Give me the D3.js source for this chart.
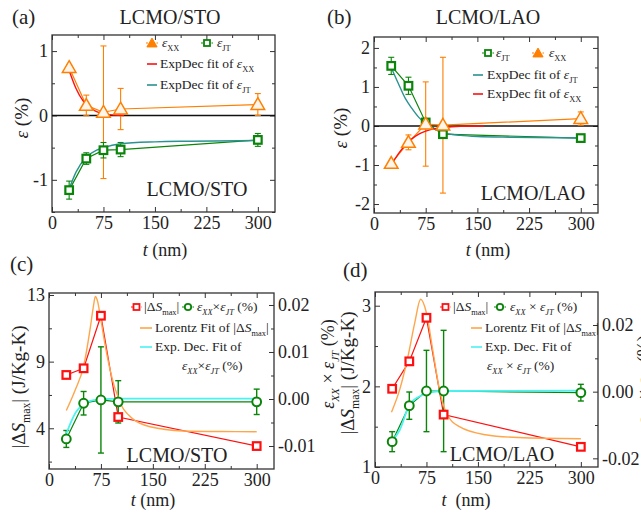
<!DOCTYPE html>
<html>
<head>
<meta charset="utf-8">
<script src="https://cdn.jsdelivr.net/npm/d3@7"></script>
<style>
body { margin: 0; background: #fff; }
</style>
</head>
<body>
<svg id="chart" width="641" height="514"></svg>
<script>
// film thickness t (nm)
var thickness = [25, 50, 75, 100, 300];

// (a) LCMO/STO strain
var stoXX = [0.745, 0.156, 0.05, 0.10, 0.17];
var stoXXErr = [0.04, 0.16, 1.03, 0.32, 0.17];
var stoJT = [-1.16, -0.67, -0.54, -0.53, -0.38];
var stoJTErr = [0.14, 0.09, 0.12, 0.11, 0.10];
var stoXXFit = [[25, 0.70], [35, 0.42], [45, 0.23], [55, 0.12], [65, 0.06], [75, 0.025], [90, 0.007], [105, 0]];
var stoJTFit = [[25, -1.14], [35, -0.88], [50, -0.65], [65, -0.54], [75, -0.50], [100, -0.44], [150, -0.41], [200, -0.40], [300, -0.39]];

// (b) LCMO/LAO strain
var laoJT = [1.54, 1.03, 0.09, -0.21, -0.31];
var laoJTErr = [0.22, 0.22, 0.06, 0.06, 0.05];
var laoXX = [-0.96, -0.42, 0.05, 0.02, 0.19];
var laoXXErr = [0.05, 0.19, 1.08, 1.74, 0.17];
var laoJTFit = [[25, 1.5], [35, 1.1], [45, 0.72], [55, 0.45], [65, 0.22], [75, 0.06], [90, -0.1], [100, -0.17], [125, -0.24], [150, -0.27], [200, -0.29], [300, -0.31]];
var laoXXFit = [[25, -1.0], [35, -0.72], [45, -0.5], [55, -0.33], [65, -0.21], [75, -0.13], [90, -0.06], [100, -0.04], [125, -0.01], [160, 0]];

// (c) LCMO/STO entropy change and strain product
var stoDS = [7.6, 8.05, 11.6, 4.76, 2.8];
var stoProd = [-0.0085, -0.0009, -0.0002, -0.0006, -0.0006];
var stoProdErr = [0.0018, 0.0025, 0.0113, 0.0045, 0.0027];
var stoDSFit = [[25, 5.2], [38, 6.6], [50, 8.2], [60, 10.9], [64, 12.2], [67, 12.9], [70, 12.6], [74, 11.6], [80, 9.9], [88, 8.0], [94, 6.9], [100, 6.1], [105, 5.5], [115, 4.9], [122, 4.6], [146, 4.1], [194, 3.82], [250, 3.78], [300, 3.77]];
var stoProdFit = [[25, -0.0074], [32, -0.0048], [38, -0.003], [45, -0.0017], [50, -0.001], [60, -0.0004], [75, -0.0001], [100, 0.0001], [300, 0.0001]];

// (d) LCMO/LAO entropy change and strain product
var laoDS = [1.97, 2.31, 2.85, 1.65, 1.25];
var laoProd = [-0.015, -0.0042, 0.0002, 0.0002, -0.0003];
var laoProdErr = [0.003, 0.0041, 0.0122, 0.0182, 0.0025];
var laoDSFit = [[24, 1.68], [36, 1.96], [48, 2.37], [58, 2.79], [66.5, 3.08], [75, 2.91], [84, 2.46], [94, 1.96], [104, 1.67], [123, 1.50], [161, 1.40], [209, 1.365], [300, 1.35]];
var laoProdFit = [[24, -0.015], [36, -0.0115], [50, -0.004], [64, -0.0015], [79, -0.0003], [98, 0.0002], [300, 0.0003]];

// ticks
var xTicks = [0, 75, 150, 225, 300];
var xMinor = [37.5, 112.5, 187.5, 262.5];
var aTicks = [-1, 0, 1];
var aMinor = [-1.5, -0.5, 0.5];
var bTicks = [-2, -1, 0, 1, 2];
var bMinor = [-1.5, -0.5, 0.5, 1.5];
var cLeftTicks = [4, 8.5, 13];
var cLeftMinor = [1.75, 6.25, 10.75];
var cRightTicks = [-0.01, 0, 0.01, 0.02];
var cRightMinor = [-0.005, 0.005, 0.015];
var dLeftTicks = [1, 2, 3];
var dLeftMinor = [1.5, 2.5];
var dRightTicks = [-0.02, 0, 0.02];
var dRightMinor = [-0.01, 0.01];

var orange = "#ff7f00", green = "#0a850a", red = "#ff1010",
    teal = "#2b9292", cyan = "#4af2f2", lorentz = "#ffa54a";
var serif = "Liberation Serif, DejaVu Serif, Times New Roman, serif";

var svg = d3.select("#chart").attr("font-family", serif);

function fmt(spec) {
    var f = d3.format(spec);
    return function(d) { return f(d).replace("\u2212", "-"); };
}

// text made of parts: [string, kind], kind "" | "i" | "sub" | "isub"
function rich(g, x, y, parts, size, anchor, rotate) {
    var t = g.append("text").attr("x", x).attr("y", y)
        .attr("font-family", serif).attr("fill", "#222")
        .attr("font-size", size).attr("text-anchor", anchor || "start");
    if (rotate) t.attr("transform", "rotate(-90," + x + "," + y + ")");
    var shifted = 0;
    parts.forEach(function(p) {
        var kind = p[1] || "";
        var sub = kind.indexOf("sub") >= 0;
        var target = sub ? size * 0.28 : 0;
        t.append("tspan").text(p[0])
            .attr("font-size", sub ? size * 0.62 : size)
            .attr("font-style", kind.indexOf("i") === 0 ? "italic" : null)
            .attr("dy", target - shifted);
        shifted = target;
    });
    return t;
}

function styleAxis(sel) {
    sel.attr("font-family", serif);
    sel.select(".domain").remove();
    sel.selectAll(".tick line").attr("stroke", "#333").attr("stroke-width", 1);
    sel.selectAll(".tick text").attr("font-size", 18).attr("fill", "#222")
        .attr("font-family", serif);
}

function axis(g, maker, scale, tx, ty, values, size, format) {
    g.append("g").attr("transform", "translate(" + tx + "," + ty + ")")
        .call(maker(scale).tickValues(values).tickSize(size).tickPadding(4)
            .tickFormat(format || ""))
        .call(styleAxis);
}

function panel(box, yDomain, yTicks, yMinor, yFormat, rightAxis) {
    var g = svg.append("g");
    var x = d3.scaleLinear().domain([0, 325]).range([box.l, box.r]);
    var y = d3.scaleLinear().domain(yDomain).range([box.b, box.t]);
    axis(g, d3.axisBottom, x, 0, box.b, xTicks, -5, fmt("d"));
    axis(g, d3.axisBottom, x, 0, box.b, xMinor, -3);
    axis(g, d3.axisTop, x, 0, box.t, xTicks, -5);
    axis(g, d3.axisTop, x, 0, box.t, xMinor, -3);
    axis(g, d3.axisLeft, y, box.l, 0, yTicks, -5, yFormat);
    axis(g, d3.axisLeft, y, box.l, 0, yMinor, -3);
    var y2 = null;
    if (rightAxis) {
        y2 = d3.scaleLinear().domain(rightAxis.domain).range([box.b, box.t]);
        axis(g, d3.axisRight, y2, box.r, 0, rightAxis.ticks, -5, fmt(".2f"));
        axis(g, d3.axisRight, y2, box.r, 0, rightAxis.minor, -3);
    } else {
        axis(g, d3.axisRight, y, box.r, 0, yTicks, -5);
        axis(g, d3.axisRight, y, box.r, 0, yMinor, -3);
    }
    g.append("rect").attr("x", box.l).attr("y", box.t)
        .attr("width", box.r - box.l).attr("height", box.b - box.t)
        .attr("fill", "none").attr("stroke", "#333").attr("stroke-width", 1.3);
    return {g: g, x: x, y: y, y2: y2};
}

function fitLine(p, ys, pts, color, width) {
    p.g.append("path").datum(pts)
        .attr("d", d3.line().x(function(d) { return p.x(d[0]); })
            .y(function(d) { return ys(d[1]); }).curve(d3.curveMonotoneX))
        .attr("fill", "none").attr("stroke", color).attr("stroke-width", width || 1.4);
}

function series(p, ys, vals, errs, color, errColor, errWidth) {
    var pts = thickness.map(function(t, i) { return [t, vals[i], errs ? errs[i] : 0]; });
    p.g.append("path").datum(pts)
        .attr("d", d3.line().x(function(d) { return p.x(d[0]); }).y(function(d) { return ys(d[1]); }))
        .attr("fill", "none").attr("stroke", color).attr("stroke-width", 1.2);
    if (errs) {
        var eb = p.g.append("g").attr("stroke", errColor).attr("stroke-width", errWidth || 1.1);
        pts.forEach(function(d) {
            var cx = p.x(d[0]), y0 = ys(d[1] - d[2]), y1 = ys(d[1] + d[2]);
            eb.append("line").attr("x1", cx).attr("x2", cx).attr("y1", y0).attr("y2", y1);
            eb.append("line").attr("x1", cx - 3).attr("x2", cx + 3).attr("y1", y0).attr("y2", y0);
            eb.append("line").attr("x1", cx - 3).attr("x2", cx + 3).attr("y1", y1).attr("y2", y1);
        });
    }
    return pts;
}

function markers(p, ys, pts, color, shape) {
    pts.forEach(function(d) { marker(p.g, p.x(d[0]), ys(d[1]), color, shape); });
}

function marker(g, cx, cy, color, shape) {
    if (shape === "tri") {
        g.append("path").attr("d", d3.symbol(d3.symbolTriangle, 80)())
            .attr("transform", "translate(" + cx + "," + (cy + 1) + ")")
            .attr("fill", "#fff5ea").attr("stroke", color).attr("stroke-width", 1.5);
    } else if (shape === "circle") {
        g.append("circle").attr("cx", cx).attr("cy", cy).attr("r", 4.4)
            .attr("fill", "#fff").attr("stroke", color).attr("stroke-width", 2);
    } else {
        g.append("rect").attr("x", cx - 3.8).attr("y", cy - 3.8).attr("width", 7.6).attr("height", 7.6)
            .attr("fill", "#fff").attr("stroke", color).attr("stroke-width", 2.2);
    }
}

function legendSym(g, x1, x2, y, color, shape) {
    g.append("line").attr("x1", x1).attr("x2", x2).attr("y1", y).attr("y2", y)
        .attr("stroke", color).attr("stroke-width", shape ? 1.2 : 1.6)
        .attr("stroke-dasharray", shape ? "2,1.5" : null);
    if (shape) {
        var cx = (x1 + x2) / 2;
        if (shape === "tri") {
            g.append("path").attr("d", d3.symbol(d3.symbolTriangle, 45)())
                .attr("transform", "translate(" + cx + "," + (y + 1) + ")")
                .attr("fill", color).attr("stroke", color);
        } else if (shape === "circle") {
            g.append("circle").attr("cx", cx).attr("cy", y).attr("r", 3.2)
                .attr("fill", "#fff").attr("stroke", color).attr("stroke-width", 1.8);
        } else {
            g.append("rect").attr("x", cx - 3).attr("y", y - 3).attr("width", 6).attr("height", 6)
                .attr("fill", "#fff").attr("stroke", color).attr("stroke-width", 1.8);
        }
    }
}

var eps = function(sub) { return [["\u03b5", "i"], [sub, "sub"]]; };
var epsI = function(sub) { return [["\u03b5", "i"], [sub, "isub"]]; };
var dS = [["|\u0394", ""], ["S", "i"], ["max", "sub"], ["|", ""]];

// ---------- (a)
var pa = panel({l: 52, r: 275, t: 35, b: 212}, [-1.5, 1.25], aTicks, aMinor, fmt("d"));
pa.g.append("line").attr("x1", 52).attr("x2", 275).attr("y1", pa.y(0)).attr("y2", pa.y(0))
    .attr("stroke", "#111").attr("stroke-width", 1.6);
var aXX = series(pa, pa.y, stoXX, stoXXErr, orange, orange);
var aJT = series(pa, pa.y, stoJT, stoJTErr, green, green);
fitLine(pa, pa.y, stoXXFit, red);
fitLine(pa, pa.y, stoJTFit, teal);
markers(pa, pa.y, aXX, orange, "tri");
markers(pa, pa.y, aJT, green, "sq");
legendSym(pa.g, 146, 158, 43, orange, "tri");
rich(pa.g, 162, 47, eps("XX"), 13.5);
legendSym(pa.g, 201, 213, 43, green, "sq");
rich(pa.g, 217, 47, eps("JT"), 13.5);
legendSym(pa.g, 147, 157, 64, red);
rich(pa.g, 160, 68, [["ExpDec fit of ", ""]].concat(eps("XX")), 13.5);
legendSym(pa.g, 147, 157, 85, teal);
rich(pa.g, 160, 89, [["ExpDec fit of ", ""]].concat(eps("JT")), 13.5);
rich(pa.g, 197, 196, [["LCMO/STO", ""]], 20, "middle");
rich(pa.g, 170, 24, [["LCMO/STO", ""]], 20, "middle");
rich(pa.g, 12, 24, [["(a)", ""]], 21);
rich(pa.g, 28, 118, [["\u03b5", "i"], [" (%)", ""]], 19, "middle", true);
rich(pa.g, 165, 256, [["t", "i"], [" (nm)", ""]], 18, "middle");

// ---------- (b)
var pb = panel({l: 374, r: 598, t: 37, b: 213}, [-2.23, 2.28], bTicks, bMinor, fmt("d"));
pb.g.append("line").attr("x1", 374).attr("x2", 598).attr("y1", pb.y(0)).attr("y2", pb.y(0))
    .attr("stroke", "#111").attr("stroke-width", 1.6);
var bJT = series(pb, pb.y, laoJT, laoJTErr, green, green);
var bXX = series(pb, pb.y, laoXX, laoXXErr, orange, orange);
fitLine(pb, pb.y, laoJTFit, teal);
fitLine(pb, pb.y, laoXXFit, red);
markers(pb, pb.y, bJT, green, "sq");
markers(pb, pb.y, bXX, orange, "tri");
legendSym(pb.g, 482, 494, 53, green, "sq");
rich(pb.g, 496, 57, eps("JT"), 13.5);
legendSym(pb.g, 532, 544, 53, orange, "tri");
rich(pb.g, 549, 57, eps("XX"), 13.5);
legendSym(pb.g, 473, 483, 75, teal);
rich(pb.g, 487, 79, [["ExpDec fit of ", ""]].concat(eps("JT")), 13.5);
legendSym(pb.g, 473, 483, 94, red);
rich(pb.g, 487, 98, [["ExpDec fit of ", ""]].concat(eps("XX")), 13.5);
rich(pb.g, 533, 200, [["LCMO/LAO", ""]], 20, "middle");
rich(pb.g, 488, 24, [["LCMO/LAO", ""]], 20, "middle");
rich(pb.g, 327, 24, [["(b)", ""]], 21);
rich(pb.g, 347, 128, [["\u03b5", "i"], [" (%)", ""]], 19, "middle", true);
rich(pb.g, 488, 256, [["t", "i"], [" (nm)", ""]], 18, "middle");

// ---------- (c)
var pc = panel({l: 49, r: 274, t: 293, b: 469}, [1.25, 13.135], cLeftTicks, cLeftMinor,
    function(d) { return String(Math.round(d)); },
    {domain: [-0.01489, 0.02255], ticks: cRightTicks, minor: cRightMinor});
var cDS = series(pc, pc.y, stoDS, null, red, red);
var cProd = series(pc, pc.y2, stoProd, stoProdErr, green, green, 1.4);
fitLine(pc, pc.y, stoDSFit, lorentz);
fitLine(pc, pc.y2, stoProdFit, cyan, 1.8);
markers(pc, pc.y, cDS, red, "sq");
markers(pc, pc.y2, cProd, green, "circle");
legendSym(pc.g, 131, 142, 307, red, "sq");
rich(pc.g, 144, 311, dS, 13.5);
legendSym(pc.g, 182, 194, 307, green, "circle");
rich(pc.g, 197, 311, epsI("XX").concat([["\u00d7", ""]], epsI("JT"), [[" (%)", ""]]), 13.5);
legendSym(pc.g, 140, 152, 328, lorentz);
rich(pc.g, 155, 332, [["Lorentz Fit of ", ""]].concat(dS), 13.5);
legendSym(pc.g, 140, 152, 347, cyan);
rich(pc.g, 155, 351, [["Exp. Dec. Fit of", ""]], 13.5);
rich(pc.g, 182, 370, epsI("XX").concat([["\u00d7", ""]], epsI("JT"), [[" (%)", ""]]), 13.5);
rich(pc.g, 177, 462, [["LCMO/STO", ""]], 20, "middle");
rich(pc.g, 10, 271, [["(c)", ""]], 21);
rich(pc.g, 25, 387, dS.concat([[" (J/Kg-K)", ""]]), 19, "middle", true);
rich(pc.g, 334, 364, epsI("XX").concat([[" \u00d7 ", ""]], epsI("JT"), [[" (%)", ""]]), 18, "middle", true);
rich(pc.g, 153, 506, [["t", "i"], [" (nm)", ""]], 18, "middle");

// ---------- (d)
var pd = panel({l: 375, r: 598, t: 292, b: 467}, [1, 3.17], dLeftTicks, dLeftMinor, fmt("d"),
    {domain: [-0.0226, 0.0299], ticks: dRightTicks, minor: dRightMinor});
var dDS = series(pd, pd.y, laoDS, null, red, red);
var dProd = series(pd, pd.y2, laoProd, laoProdErr, green, green, 1.4);
fitLine(pd, pd.y, laoDSFit, lorentz);
fitLine(pd, pd.y2, laoProdFit, cyan, 1.8);
markers(pd, pd.y, dDS, red, "sq");
markers(pd, pd.y2, dProd, green, "circle");
legendSym(pd.g, 440, 451, 307, red, "sq");
rich(pd.g, 453, 311, dS, 13.5);
legendSym(pd.g, 494, 506, 307, green, "circle");
rich(pd.g, 510, 311, epsI("XX").concat([[" \u00d7 ", ""]], epsI("JT"), [[" (%)", ""]]), 13.5);
legendSym(pd.g, 471, 482, 328, lorentz);
rich(pd.g, 485, 332, [["Lorentz Fit of ", ""]].concat(dS), 13.5);
legendSym(pd.g, 471, 482, 347, cyan);
rich(pd.g, 485, 351, [["Exp. Dec. Fit of", ""]], 13.5);
rich(pd.g, 487, 370, epsI("XX").concat([[" \u00d7 ", ""]], epsI("JT"), [[" (%)", ""]]), 13.5);
rich(pd.g, 502, 461, [["LCMO/LAO", ""]], 20, "middle");
rich(pd.g, 343, 277, [["(d)", ""]], 21);
rich(pd.g, 354, 373, dS.concat([[" (J/Kg-K)", ""]]), 19, "middle", true);
// right-axis title runs past the page edge, as in the reference
rich(pd.g, 650, 380, epsI("XX").concat([[" \u00d7 ", ""]], epsI("JT"), [[" (%)", ""]]), 18, "middle", true);
rich(pd.g, 466, 506, [["t", "i"], ["\u00a0 (nm)", ""]], 18, "middle");
</script>
</body>
</html>
